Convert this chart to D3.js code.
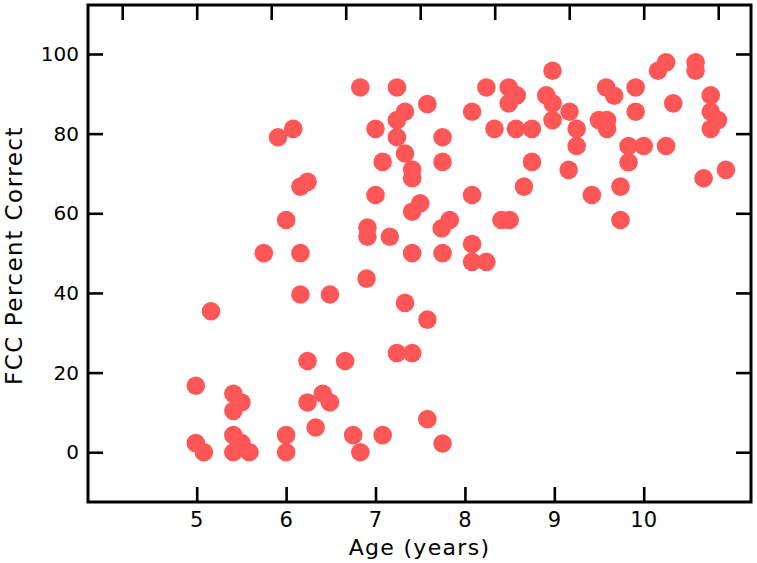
<!DOCTYPE html>
<html>
<head>
<meta charset="utf-8">
<script src="https://cdn.jsdelivr.net/npm/d3@7"></script>
<style>
  body { margin: 0; background: #fff; }
  text { font-family: "DejaVu Sans", sans-serif; fill: #000; }
</style>
</head>
<body>
<div id="chart"></div>
<script>
// age in years, FCC percent correct
var ages = [4.99, 4.99, 5.08, 5.16, 5.41, 5.41, 5.41, 5.41, 5.50, 5.50,
            5.59, 5.75, 5.91, 6.00, 6.00, 6.00, 6.08, 6.16, 6.16, 6.16,
            6.24, 6.24, 6.24, 6.33, 6.41, 6.49, 6.49, 6.66, 6.75, 6.83,
            6.83, 6.90, 6.91, 6.91, 7.00, 7.00, 7.08, 7.08, 7.16, 7.24,
            7.24, 7.24, 7.24, 7.33, 7.33, 7.33, 7.41, 7.41, 7.41, 7.41,
            7.41, 7.50, 7.58, 7.58, 7.58, 7.75, 7.75, 7.74, 7.75, 7.75,
            7.83, 8.08, 8.08, 8.08, 8.08, 8.24, 8.24, 8.33, 8.41, 8.49,
            8.49, 8.50, 8.58, 8.57, 8.66, 8.75, 8.75, 8.91, 8.98, 8.98,
            8.98, 9.17, 9.16, 9.25, 9.25, 9.42, 9.50, 9.58, 9.59, 9.59,
            9.67, 9.74, 9.74, 9.83, 9.83, 9.91, 9.91, 10.00, 10.16, 10.25,
            10.25, 10.33, 10.58, 10.58, 10.67, 10.75, 10.75, 10.75, 10.83, 10.92];
var scores = [16.7, 2.3, 0, 35.4, 14.7, 10.4, 4.3, 0, 12.5, 2.3,
              0, 50, 79.1, 58.3, 4.3, 0, 81.2, 66.7, 50, 39.6,
              67.9, 22.9, 12.5, 6.2, 14.7, 39.6, 12.5, 22.9, 4.3, 91.6,
              0, 43.6, 56.4, 54.1, 81.2, 64.6, 72.9, 4.3, 54.1, 91.6,
              83.4, 79.1, 24.9, 85.5, 75.0, 37.5, 71.0, 68.8, 60.4, 50,
              24.9, 62.5, 87.4, 33.3, 8.3, 79.1, 72.9, 56.2, 50, 2.2,
              58.3, 85.5, 64.6, 52.3, 47.8, 91.6, 47.8, 81.2, 58.3, 91.6,
              87.6, 58.3, 89.6, 81.2, 66.7, 81.2, 72.9, 89.6, 95.8, 87.6,
              83.4, 85.5, 70.9, 81.2, 76.9, 64.6, 83.4, 91.6, 83.4, 81.2,
              89.5, 66.7, 58.3, 76.9, 72.8, 91.6, 85.5, 76.9, 95.8, 97.9,
              76.9, 87.6, 97.9, 95.8, 68.8, 89.6, 85.5, 81.2, 83.4, 70.9];

var xTicks = [5, 6, 7, 8, 9, 10];
var topTicksMonths = [50, 60, 70, 80, 90, 100, 110, 120, 130];
var yTicks = [0, 20, 40, 60, 80, 100];

var W = 757, H = 563;
var margin = {top: 5, right: 6, bottom: 61, left: 88};
var width = W - margin.left - margin.right,
    height = H - margin.top - margin.bottom;

var svg = d3.select("#chart").append("svg")
    .attr("width", W)
    .attr("height", H);

var g = svg.append("g")
    .attr("transform", "translate(" + margin.left + "," + margin.top + ")");

var x = d3.scaleLinear().domain([3.784, 11.2]).range([0, width]);
var y = d3.scaleLinear().domain([-12.5, 112.3]).range([height, 0]);

var tickLen = 15;

// points
g.selectAll("circle.pt")
    .data(ages.map(function (a, i) { return {age: a, score: scores[i]}; }))
  .enter().append("circle")
    .attr("class", "pt")
    .attr("cx", function (d) { return x(d.age); })
    .attr("cy", function (d) { return y(d.score); })
    .attr("r", 9.3)
    .attr("fill", "#ff5757");

// axes, ticks inward
var axBottom = g.append("g").attr("transform", "translate(0," + height + ")")
    .call(d3.axisTop(x).tickValues(xTicks).tickSize(tickLen).tickFormat(""));
var axTop = g.append("g")
    .call(d3.axisBottom(x).tickValues(topTicksMonths.map(function (m) { return m / 12; })).tickSize(tickLen).tickFormat(""));
var axLeft = g.append("g")
    .call(d3.axisRight(y).tickValues(yTicks).tickSize(tickLen).tickFormat(""));
var axRight = g.append("g").attr("transform", "translate(" + width + ",0)")
    .call(d3.axisLeft(y).tickValues(yTicks).tickSize(tickLen).tickFormat(""));

[axBottom, axTop, axLeft, axRight].forEach(function (a) {
    a.select(".domain").remove();
    a.selectAll(".tick line").attr("stroke", "#000").attr("stroke-width", 2.6);
});

// tick labels
g.selectAll("text.xl")
    .data(xTicks)
  .enter().append("text")
    .attr("class", "xl")
    .attr("x", function (d) { return x(d); })
    .attr("y", height + 25)
    .attr("text-anchor", "middle")
    .style("font-size", "21px")
    .text(function (d) { return d; });

g.selectAll("text.yl")
    .data(yTicks)
  .enter().append("text")
    .attr("class", "yl")
    .attr("x", -9)
    .attr("y", function (d) { return y(d); })
    .attr("dy", "0.36em")
    .attr("text-anchor", "end")
    .style("font-size", "20px")
    .text(function (d) { return d; });

// frame
g.append("rect")
    .attr("x", 0).attr("y", 0)
    .attr("width", width).attr("height", height)
    .attr("fill", "none")
    .attr("stroke", "#000")
    .attr("stroke-width", 3);

// titles
svg.append("text")
    .attr("x", margin.left + width / 2)
    .attr("y", 555)
    .attr("text-anchor", "middle")
    .style("font-size", "22px")
    .style("letter-spacing", "1.3px")
    .text("Age (years)");

svg.append("text")
    .attr("transform", "translate(22," + (margin.top + height / 2 + 2) + ") rotate(-90)")
    .attr("text-anchor", "middle")
    .style("font-size", "23px")
    .style("letter-spacing", "1.5px")
    .text("FCC Percent Correct");
</script>
</body>
</html>
